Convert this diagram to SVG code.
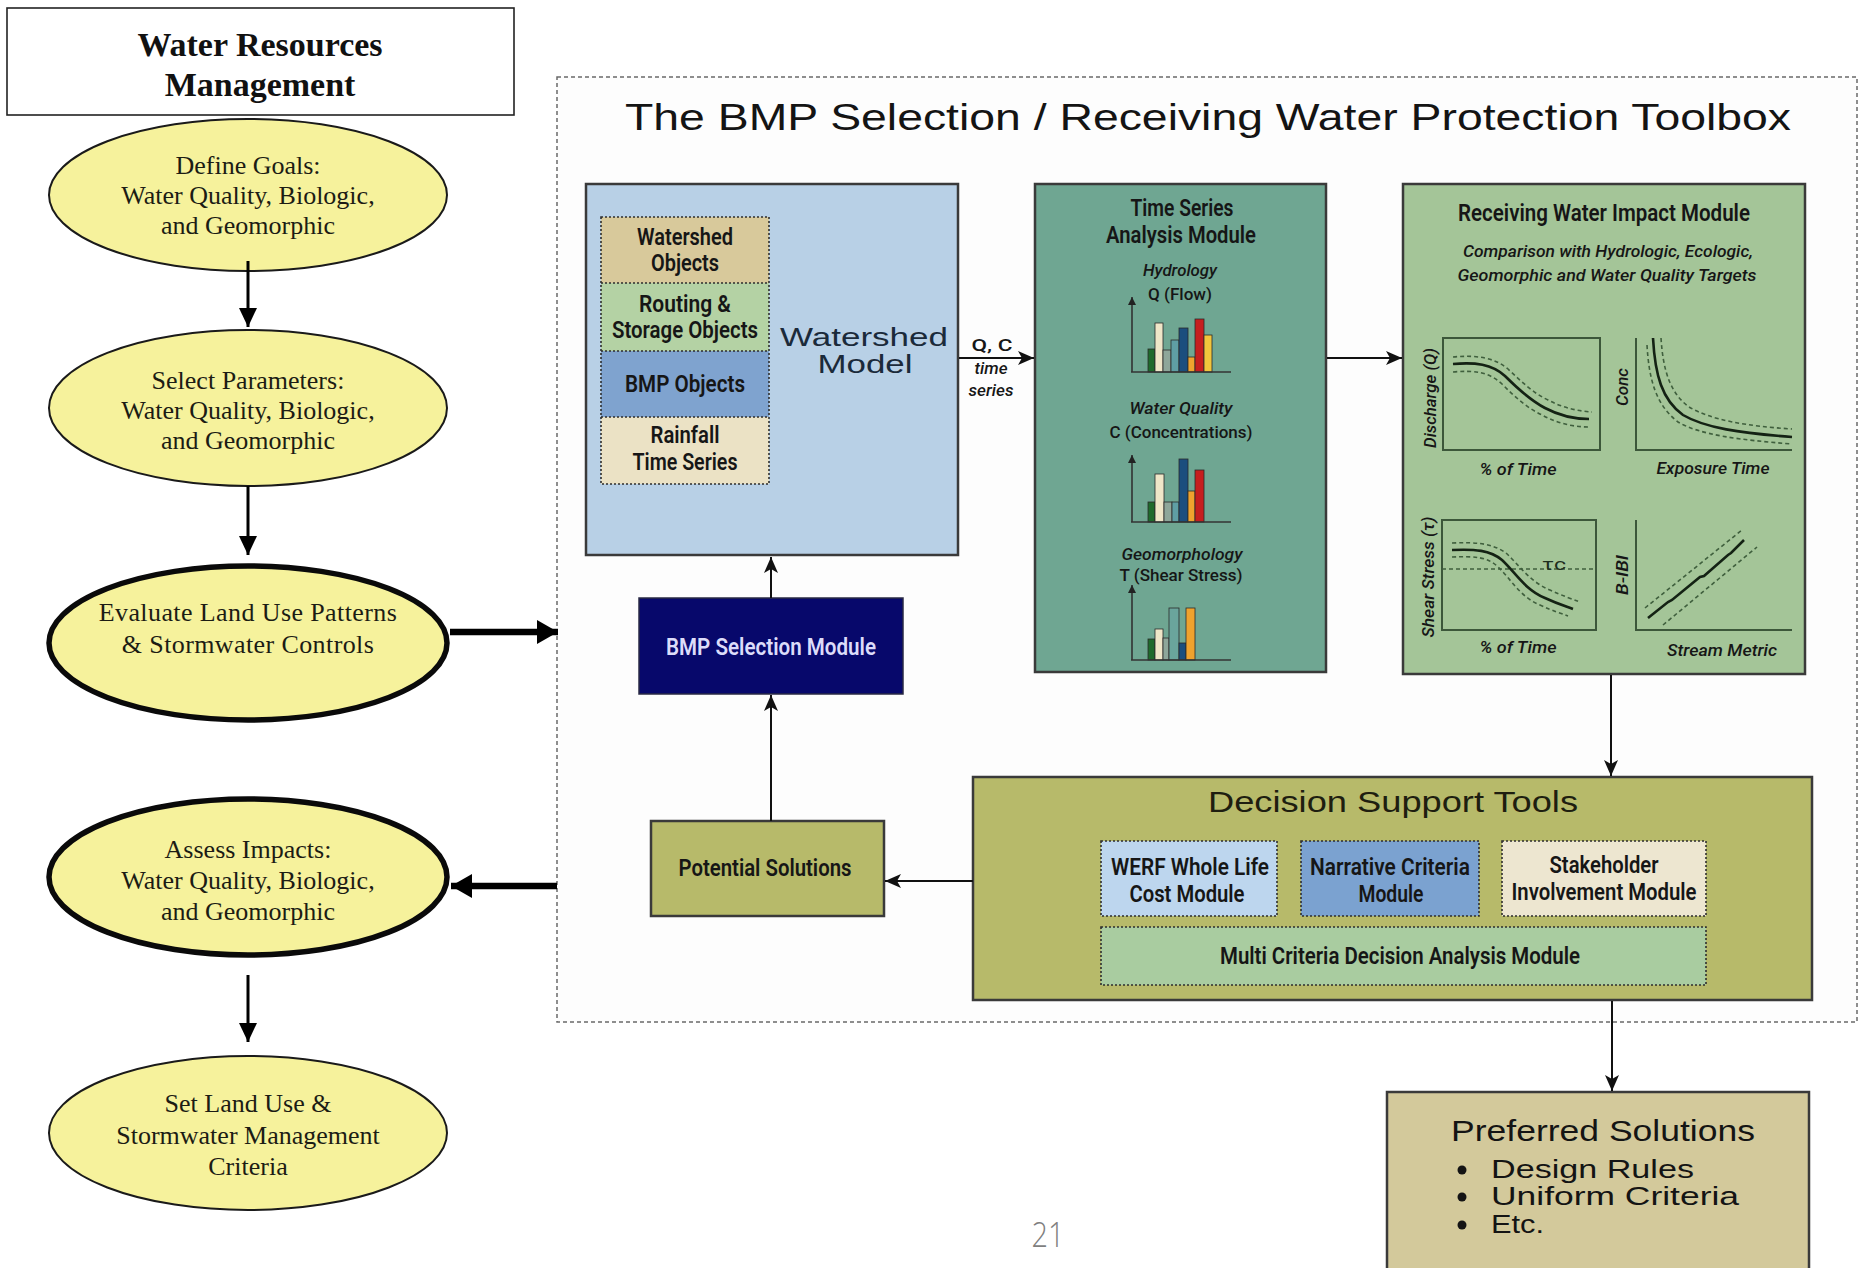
<svg xmlns="http://www.w3.org/2000/svg" width="1860" height="1268" viewBox="0 0 1860 1268">
  <defs>
    <style>
      .sr { font-family: "Liberation Serif", "Times New Roman", serif; font-size: 26px; fill: #1c1c14; text-anchor: middle; }
      .srb { font-family: "Liberation Serif", "Times New Roman", serif; font-size: 34px; font-weight: bold; fill: #111; text-anchor: middle; }
      .cn { font-family: "Roboto", "Liberation Sans", sans-serif; font-weight: 600; font-size: 23px; fill: #161616; text-anchor: middle; }
      .cni { font-family: "Roboto", "Liberation Sans", sans-serif; font-weight: 500; font-style: italic; font-size: 17px; fill: #161616; text-anchor: middle; }
      .cns { font-family: "Roboto", "Liberation Sans", sans-serif; font-weight: 500; font-size: 17px; fill: #161616; text-anchor: middle; }
      .ex { font-family: "Liberation Sans", Arial, sans-serif; fill: #141414; text-anchor: middle; }
      .ell { fill: #f6f29c; stroke: #1a1a1a; stroke-width: 2; }
      .ellb { fill: #f6f29c; stroke: #0a0a0a; stroke-width: 5.5; }
      .box { stroke: #3a3a3a; stroke-width: 2.5; }
      .dot { stroke: #2e2e2e; stroke-width: 1.6; stroke-dasharray: 2 2; }
      .bar { stroke: #2a2a2a; stroke-width: 0.8; }
      .axis { stroke: #333; stroke-width: 1.6; fill: none; }
      .frame { stroke: #3c573a; stroke-width: 2; fill: none; }
      .crv { stroke: #142214; stroke-width: 2.6; fill: none; }
      .crvd { stroke: #3f5f3d; stroke-width: 1.6; fill: none; stroke-dasharray: 4 3; }
      .thin { stroke: #111; stroke-width: 2; fill: none; }
      .med { stroke: #000; stroke-width: 3; fill: none; }
      .thick { stroke: #000; stroke-width: 6.5; fill: none; }
    </style>
    <marker id="ahThin" markerUnits="userSpaceOnUse" markerWidth="18" markerHeight="14" refX="16" refY="7" orient="auto">
      <path d="M0,0 L16,7 L0,14 L4,7 z" fill="#111"/>
    </marker>
    <marker id="ahMed" markerUnits="userSpaceOnUse" markerWidth="20" markerHeight="18" refX="19" refY="9" orient="auto">
      <path d="M0,0 L19,9 L0,18 z" fill="#000"/>
    </marker>
    <marker id="ahThick" markerUnits="userSpaceOnUse" markerWidth="22" markerHeight="24" refX="21" refY="12" orient="auto">
      <path d="M0,0 L21,12 L0,24 z" fill="#000"/>
    </marker>
    <marker id="ahAxis" markerUnits="userSpaceOnUse" markerWidth="8" markerHeight="8" refX="8" refY="4" orient="auto">
      <path d="M0,0 L8,4 L0,8 z" fill="#222"/>
    </marker>
  </defs>

  <rect x="0" y="0" width="1860" height="1268" fill="#ffffff"/>

  <!-- Left-hand planning flow -->
  <g id="wrm-header">
    <rect x="7" y="8" width="507" height="107" fill="#ffffff" stroke="#222" stroke-width="1.6"/>
    <text class="srb" x="260" y="56">Water Resources</text>
    <text class="srb" x="260" y="96">Management</text>
  </g>

  <g id="define-goals">
    <ellipse class="ell" cx="248" cy="195" rx="199" ry="76"/>
    <text class="sr" x="248" y="174">Define Goals:</text>
    <text class="sr" x="248" y="204">Water Quality, Biologic,</text>
    <text class="sr" x="248" y="234">and Geomorphic</text>
  </g>

  <g id="select-parameters">
    <ellipse class="ell" cx="248" cy="408" rx="199" ry="78"/>
    <text class="sr" x="248" y="389">Select Parameters:</text>
    <text class="sr" x="248" y="419">Water Quality, Biologic,</text>
    <text class="sr" x="248" y="449">and Geomorphic</text>
  </g>

  <g id="evaluate-land-use">
    <ellipse class="ellb" cx="248" cy="643" rx="199" ry="77"/>
    <text class="sr" x="248" y="621" letter-spacing="0.4">Evaluate Land Use Patterns</text>
    <text class="sr" x="248" y="653" letter-spacing="0.4">&amp;  Stormwater Controls</text>
  </g>

  <g id="assess-impacts">
    <ellipse class="ellb" cx="248" cy="877" rx="199" ry="78"/>
    <text class="sr" x="248" y="858">Assess Impacts:</text>
    <text class="sr" x="248" y="889">Water Quality, Biologic,</text>
    <text class="sr" x="248" y="920">and Geomorphic</text>
  </g>

  <g id="set-criteria">
    <ellipse class="ell" cx="248" cy="1133" rx="199" ry="77"/>
    <text class="sr" x="248" y="1112">Set Land Use &amp;</text>
    <text class="sr" x="248" y="1144">Stormwater Management</text>
    <text class="sr" x="248" y="1175">Criteria</text>
  </g>

  <!-- Toolbox frame -->
  <g id="toolbox">
    <rect x="557" y="77" width="1300" height="945" fill="#fdfdfd" stroke="#6a6a6a" stroke-width="1.5" stroke-dasharray="4 3"/>
    <text class="ex" x="1208" y="130" font-size="37" textLength="1166" lengthAdjust="spacingAndGlyphs">The BMP Selection / Receiving Water Protection Toolbox</text>
  </g>

  <g id="watershed-model">
    <rect class="box" x="586" y="184" width="372" height="371" fill="#b8d0e6" stroke="#4a4a4a"/>
    <rect x="601" y="217" width="168" height="66" fill="#d8c99b"/>
    <rect x="601" y="283" width="168" height="68" fill="#b4d2a4"/>
    <rect x="601" y="351" width="168" height="66" fill="#7fa3cf"/>
    <rect x="601" y="417" width="168" height="67" fill="#ebe2c5"/>
    <rect class="dot" x="601" y="217" width="168" height="267" fill="none"/>
    <line class="dot" x1="601" y1="283" x2="769" y2="283"/>
    <line class="dot" x1="601" y1="351" x2="769" y2="351"/>
    <line class="dot" x1="601" y1="417" x2="769" y2="417"/>
    <text class="cn" x="685" y="245" textLength="96" lengthAdjust="spacingAndGlyphs">Watershed</text>
    <text class="cn" x="685" y="271" textLength="68" lengthAdjust="spacingAndGlyphs">Objects</text>
    <text class="cn" x="685" y="312" textLength="92" lengthAdjust="spacingAndGlyphs">Routing &amp;</text>
    <text class="cn" x="685" y="338" textLength="146" lengthAdjust="spacingAndGlyphs">Storage Objects</text>
    <text class="cn" x="685" y="392" textLength="120" lengthAdjust="spacingAndGlyphs">BMP Objects</text>
    <text class="cn" x="685" y="443" textLength="69" lengthAdjust="spacingAndGlyphs">Rainfall</text>
    <text class="cn" x="685" y="470" textLength="105" lengthAdjust="spacingAndGlyphs">Time Series</text>
    <text class="ex" x="864" y="346" font-size="25" style="fill:#1b2a3a" textLength="168" lengthAdjust="spacingAndGlyphs">Watershed</text>
    <text class="ex" x="865" y="373" font-size="25" style="fill:#1b2a3a" textLength="95" lengthAdjust="spacingAndGlyphs">Model</text>
  </g>

  <g id="qc-label">
    <text class="cns" x="992" y="351" font-size="18" textLength="41" lengthAdjust="spacingAndGlyphs">Q, C</text>
    <text class="cni" x="991" y="374" textLength="33" lengthAdjust="spacingAndGlyphs">time</text>
    <text class="cni" x="991" y="396" textLength="45" lengthAdjust="spacingAndGlyphs">series</text>
  </g>

  <g id="time-series-module">
    <rect class="box" x="1035" y="184" width="291" height="488" fill="#6fa692"/>
    <text class="cn" x="1182" y="216" textLength="103" lengthAdjust="spacingAndGlyphs">Time Series</text>
    <text class="cn" x="1181" y="243" textLength="150" lengthAdjust="spacingAndGlyphs">Analysis Module</text>

    <text class="cni" x="1180" y="276" textLength="74" lengthAdjust="spacingAndGlyphs">Hydrology</text>
    <text class="cns" x="1180" y="300" textLength="64" lengthAdjust="spacingAndGlyphs">Q (Flow)</text>
    <rect class="bar" x="1148" y="349" width="7" height="23" fill="#1f6a2c"/>
    <rect class="bar" x="1155" y="323" width="8" height="49" fill="#efe6c8"/>
    <rect class="bar" x="1163" y="350" width="8" height="22" fill="#8ea69a"/>
    <rect class="bar" x="1171" y="340" width="8" height="32" fill="#5f9ea4"/>
    <rect class="bar" x="1179" y="328" width="9" height="44" fill="#1b4e7e"/>
    <rect class="bar" x="1188" y="357" width="7" height="15" fill="#efa22e"/>
    <rect class="bar" x="1195" y="319" width="9" height="53" fill="#c61e1e"/>
    <rect class="bar" x="1204" y="335" width="8" height="37" fill="#f2c53c"/>
    <line class="axis" x1="1132" y1="372" x2="1132" y2="297" marker-end="url(#ahAxis)"/>
    <line class="axis" x1="1131" y1="372" x2="1231" y2="372"/>

    <text class="cni" x="1181" y="414" textLength="103" lengthAdjust="spacingAndGlyphs">Water Quality</text>
    <text class="cns" x="1181" y="438" textLength="143" lengthAdjust="spacingAndGlyphs">C (Concentrations)</text>
    <rect class="bar" x="1148" y="502" width="7" height="20" fill="#1f6a2c"/>
    <rect class="bar" x="1155" y="474" width="9" height="48" fill="#efe6c8"/>
    <rect class="bar" x="1164" y="502" width="8" height="20" fill="#8ea69a"/>
    <rect class="bar" x="1172" y="502" width="7" height="20" fill="#5f9ea4"/>
    <rect class="bar" x="1179" y="459" width="9" height="63" fill="#1b4e7e"/>
    <rect class="bar" x="1188" y="491" width="7" height="31" fill="#efa22e"/>
    <rect class="bar" x="1195" y="470" width="9" height="52" fill="#c61e1e"/>
    <line class="axis" x1="1132" y1="522" x2="1132" y2="455" marker-end="url(#ahAxis)"/>
    <line class="axis" x1="1131" y1="522" x2="1231" y2="522"/>

    <text class="cni" x="1182" y="560" textLength="121" lengthAdjust="spacingAndGlyphs">Geomorphology</text>
    <text class="cns" x="1181" y="581" textLength="123" lengthAdjust="spacingAndGlyphs">T (Shear Stress)</text>
    <rect class="bar" x="1148" y="639" width="7" height="21" fill="#1f6a2c"/>
    <rect class="bar" x="1155" y="629" width="8" height="31" fill="#efe6c8"/>
    <rect class="bar" x="1163" y="638" width="6" height="22" fill="#8ea69a"/>
    <rect class="bar" x="1169" y="608" width="10" height="52" fill="#6aa59c"/>
    <rect class="bar" x="1179" y="643" width="7" height="17" fill="#1b4e7e"/>
    <rect class="bar" x="1186" y="608" width="9" height="52" fill="#efa22e"/>
    <line class="axis" x1="1132" y1="660" x2="1132" y2="585" marker-end="url(#ahAxis)"/>
    <line class="axis" x1="1131" y1="660" x2="1231" y2="660"/>
  </g>

  <g id="receiving-water-module">
    <rect class="box" x="1403" y="184" width="402" height="490" fill="#a4c598"/>
    <text class="cn" x="1604" y="221" font-size="23" textLength="292" lengthAdjust="spacingAndGlyphs">Receiving Water Impact Module</text>
    <text class="cni" x="1608" y="257" font-size="18" textLength="290" lengthAdjust="spacingAndGlyphs">Comparison with Hydrologic, Ecologic,</text>
    <text class="cni" x="1607" y="281" font-size="18" textLength="299" lengthAdjust="spacingAndGlyphs">Geomorphic and Water Quality Targets</text>

    <!-- discharge duration -->
    <rect class="frame" x="1443" y="338" width="157" height="112"/>
    <path class="crvd" d="M1453,357 C1475,355 1494,357 1508,369 C1522,382 1533,393 1548,400 C1563,408 1578,411 1592,412"/>
    <path class="crvd" d="M1453,372 C1475,370 1489,372 1502,384 C1515,397 1527,408 1542,415 C1557,423 1572,427 1590,427"/>
    <path class="crv" d="M1453,364 C1475,362 1492,364 1505,376 C1518,389 1530,400 1545,408 C1560,416 1575,419 1589,419"/>
    <text class="cni" x="1518" y="475" textLength="77" lengthAdjust="spacingAndGlyphs">% of Time</text>
    <text class="cni" transform="translate(1436,398) rotate(-90)" x="0" y="0" textLength="100" lengthAdjust="spacingAndGlyphs">Discharge (Q)</text>

    <!-- concentration vs exposure -->
    <path class="frame" d="M1636,338 L1636,450 L1792,450"/>
    <path class="crvd" d="M1661,338 C1663,370 1670,393 1689,407 C1711,420 1746,426 1792,429"/>
    <path class="crvd" d="M1647,345 C1649,380 1656,405 1678,422 C1700,435 1740,440 1792,444"/>
    <path class="crv" d="M1653,338 C1655,375 1662,400 1683,415 C1705,428 1740,433 1792,437"/>
    <text class="cni" x="1713" y="474" textLength="113" lengthAdjust="spacingAndGlyphs">Exposure Time</text>
    <text class="cni" transform="translate(1628,387) rotate(-90)" x="0" y="0" textLength="38" lengthAdjust="spacingAndGlyphs">Conc</text>

    <!-- shear stress duration -->
    <rect class="frame" x="1442" y="520" width="154" height="110"/>
    <line class="crvd" x1="1442" y1="569" x2="1596" y2="569"/>
    <path class="crvd" d="M1452,543 C1475,542 1492,543 1506,553 C1519,565 1530,582 1550,590 C1563,596 1572,599 1580,602"/>
    <path class="crvd" d="M1452,557 C1475,556 1488,557 1498,567 C1511,579 1520,597 1540,605 C1553,611 1560,613 1568,616"/>
    <path class="crv" d="M1452,550 C1475,549 1490,550 1502,560 C1515,572 1525,590 1545,598 C1558,604 1565,606 1573,609"/>
    <text class="cns" x="1554" y="570" font-size="19" textLength="24" lengthAdjust="spacingAndGlyphs" style="fill:#1e2e1e; font-weight:400">τc</text>
    <text class="cni" x="1518" y="653" textLength="77" lengthAdjust="spacingAndGlyphs">% of Time</text>
    <text class="cni" transform="translate(1434,577) rotate(-90)" x="0" y="0" textLength="121" lengthAdjust="spacingAndGlyphs">Shear Stress (τ)</text>

    <!-- biotic index vs stream metric -->
    <path class="frame" d="M1636,520 L1636,630 L1792,630"/>
    <path class="crvd" d="M1645,608 L1742,530"/>
    <path class="crvd" d="M1663,625 L1757,547"/>
    <path class="crv" d="M1648,618 L1668,602 L1672,600 L1700,577 L1704,576 L1728,555 L1731,553 L1744,540"/>
    <text class="cni" x="1722" y="656" textLength="110" lengthAdjust="spacingAndGlyphs">Stream Metric</text>
    <text class="cni" transform="translate(1628,575) rotate(-90)" x="0" y="0" textLength="40" lengthAdjust="spacingAndGlyphs">B-IBI</text>
  </g>

  <g id="bmp-selection-module">
    <rect x="639" y="598" width="264" height="96" fill="#07086b" stroke="#2a2a44" stroke-width="1.5"/>
    <text class="cn" x="771" y="655" style="fill:#dcdcfa" textLength="210" lengthAdjust="spacingAndGlyphs">BMP Selection Module</text>
  </g>

  <g id="potential-solutions">
    <rect class="box" x="651" y="821" width="233" height="95" fill="#b7ba6a"/>
    <text class="cn" x="765" y="876" textLength="173" lengthAdjust="spacingAndGlyphs">Potential Solutions</text>
  </g>

  <g id="decision-support-tools">
    <rect class="box" x="973" y="777" width="839" height="223" fill="#b7ba6a"/>
    <text class="ex" x="1393" y="812" font-size="29" style="fill:#1e1e10" textLength="370" lengthAdjust="spacingAndGlyphs">Decision Support Tools</text>
    <rect class="dot" x="1101" y="841" width="176" height="75" fill="#bdd6ee"/>
    <text class="cn" x="1190" y="875" font-size="21" textLength="158" lengthAdjust="spacingAndGlyphs">WERF Whole Life</text>
    <text class="cn" x="1187" y="902" font-size="21" textLength="115" lengthAdjust="spacingAndGlyphs">Cost Module</text>
    <rect class="dot" x="1301" y="841" width="178" height="75" fill="#7ba2d0"/>
    <text class="cn" x="1390" y="875" font-size="21" textLength="160" lengthAdjust="spacingAndGlyphs">Narrative Criteria</text>
    <text class="cn" x="1391" y="902" font-size="21" textLength="65" lengthAdjust="spacingAndGlyphs">Module</text>
    <rect class="dot" x="1502" y="841" width="204" height="75" fill="#ede6d0"/>
    <text class="cn" x="1604" y="873" font-size="21" textLength="109" lengthAdjust="spacingAndGlyphs">Stakeholder</text>
    <text class="cn" x="1604" y="900" font-size="21" textLength="185" lengthAdjust="spacingAndGlyphs">Involvement Module</text>
    <rect class="dot" x="1101" y="927" width="605" height="58" fill="#a9cca0" stroke-width="2"/>
    <text class="cn" x="1400" y="964" font-size="21" textLength="360" lengthAdjust="spacingAndGlyphs">Multi Criteria Decision Analysis Module</text>
  </g>

  <g id="preferred-solutions">
    <rect class="box" x="1387" y="1092" width="422" height="190" fill="#d3c99b"/>
    <text class="ex" x="1603" y="1141" font-size="30" textLength="304" lengthAdjust="spacingAndGlyphs">Preferred Solutions</text>
    <circle cx="1462" cy="1170" r="4.5" fill="#141414"/>
    <circle cx="1462" cy="1197" r="4.5" fill="#141414"/>
    <circle cx="1462" cy="1225" r="4.5" fill="#141414"/>
    <text class="ex" x="1491" y="1178" font-size="26" style="text-anchor:start" textLength="203" lengthAdjust="spacingAndGlyphs">Design Rules</text>
    <text class="ex" x="1491" y="1205" font-size="26" style="text-anchor:start" textLength="248" lengthAdjust="spacingAndGlyphs">Uniform Criteria</text>
    <text class="ex" x="1491" y="1233" font-size="26" style="text-anchor:start" textLength="53" lengthAdjust="spacingAndGlyphs">Etc.</text>
  </g>

  <g id="page-number">
    <text x="1048" y="1247" font-family="'Open Sans', 'Liberation Sans', sans-serif" font-weight="300" font-size="34" fill="#7f7f7f" text-anchor="middle" textLength="33" lengthAdjust="spacingAndGlyphs">21</text>
  </g>

  <!-- Connectors -->
  <g id="connectors">
    <line class="med" x1="248" y1="261" x2="248" y2="327" marker-end="url(#ahMed)"/>
    <line class="med" x1="248" y1="486" x2="248" y2="555" marker-end="url(#ahMed)"/>
    <line class="med" x1="248" y1="975" x2="248" y2="1042" marker-end="url(#ahMed)"/>
    <line class="thick" x1="450" y1="632" x2="558" y2="632" marker-end="url(#ahThick)"/>
    <line class="thick" x1="557" y1="886" x2="451" y2="886" marker-end="url(#ahThick)"/>

    <line class="thin" x1="959" y1="358" x2="1034" y2="358" marker-end="url(#ahThin)"/>
    <line class="thin" x1="1327" y1="358" x2="1402" y2="358" marker-end="url(#ahThin)"/>
    <line class="thin" x1="1611" y1="675" x2="1611" y2="776" marker-end="url(#ahThin)"/>
    <line class="thin" x1="973" y1="881" x2="885" y2="881" marker-end="url(#ahThin)"/>
    <line class="thin" x1="771" y1="821" x2="771" y2="695" marker-end="url(#ahThin)"/>
    <line class="thin" x1="771" y1="598" x2="771" y2="557" marker-end="url(#ahThin)"/>
    <line class="thin" x1="1612" y1="1001" x2="1612" y2="1091" marker-end="url(#ahThin)"/>
  </g>
</svg>
